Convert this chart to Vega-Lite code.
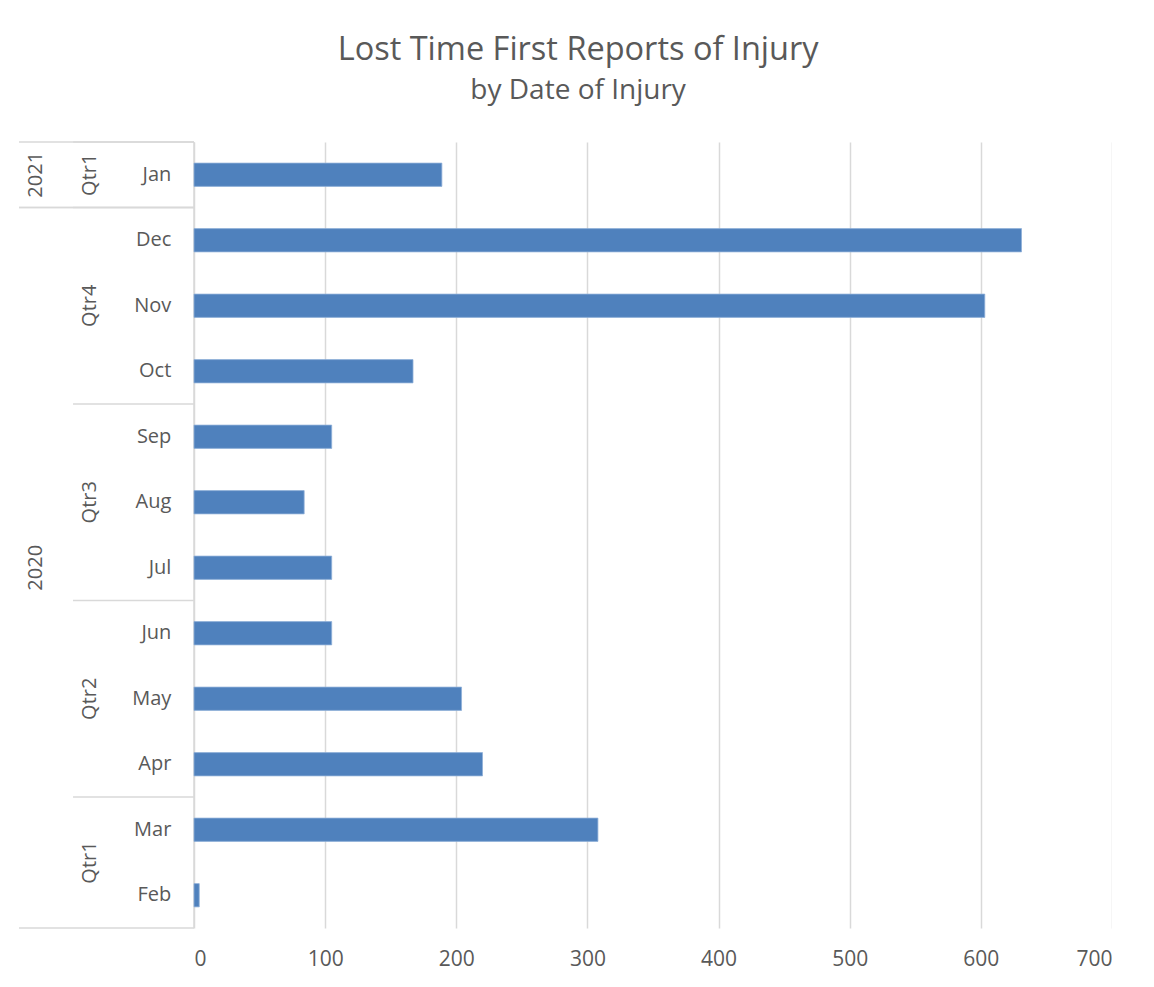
{
  "$schema": "https://vega.github.io/schema/vega-lite/v6.json",
  "padding": {"left": 18, "top": 33, "right": 0, "bottom": 8},
  "background": "white",
  "bounds": "flush",
  "title": {
    "text": "Lost Time First Reports of Injury",
    "subtitle": "by Date of Injury",
    "anchor": "middle",
    "dx": 13,
    "font": "Open Sans",
    "fontSize": 32.5,
    "fontWeight": "normal",
    "color": "#595959",
    "subtitleFont": "Open Sans",
    "subtitleFontSize": 28,
    "subtitleColor": "#595959",
    "subtitlePadding": 11,
    "offset": 36
  },
  "datasets": {
    "months": [
      {"year": "2021", "quarter": "Qtr1", "month": "Jan", "count": 189},
      {"year": "2020", "quarter": "Qtr4", "month": "Dec", "count": 631},
      {"year": "2020", "quarter": "Qtr4", "month": "Nov", "count": 603},
      {"year": "2020", "quarter": "Qtr4", "month": "Oct", "count": 167},
      {"year": "2020", "quarter": "Qtr3", "month": "Sep", "count": 105},
      {"year": "2020", "quarter": "Qtr3", "month": "Aug", "count": 84},
      {"year": "2020", "quarter": "Qtr3", "month": "Jul", "count": 105},
      {"year": "2020", "quarter": "Qtr2", "month": "Jun", "count": 105},
      {"year": "2020", "quarter": "Qtr2", "month": "May", "count": 204},
      {"year": "2020", "quarter": "Qtr2", "month": "Apr", "count": 220},
      {"year": "2020", "quarter": "Qtr1", "month": "Mar", "count": 308},
      {"year": "2020", "quarter": "Qtr1", "month": "Feb", "count": 4}
    ],
    "years": [
      {"year": "2021", "start": 0, "end": 1},
      {"year": "2020", "start": 1, "end": 12}
    ],
    "quarters": [
      {"year": "2021", "quarter": "Qtr1", "start": 0, "end": 1},
      {"year": "2020", "quarter": "Qtr4", "start": 1, "end": 4},
      {"year": "2020", "quarter": "Qtr3", "start": 4, "end": 7},
      {"year": "2020", "quarter": "Qtr2", "start": 7, "end": 10},
      {"year": "2020", "quarter": "Qtr1", "start": 10, "end": 12}
    ]
  },
  "config": {
    "view": {"stroke": null},
    "font": "Open Sans",
    "text": {"font": "Open Sans", "color": "#595959"}
  },
  "spacing": 0,
  "hconcat": [
    {
      "width": 175,
      "height": 786,
      "layer": [
        {
          "layer": [
            {
              "data": {"name": "years"},
              "mark": {"type": "rule", "color": "#d9d9d9", "strokeWidth": 1.5},
              "encoding": {
                "x": {"datum": 0, "type": "quantitative", "scale": {"domain": [0, 3.24], "nice": false, "zero": false}, "axis": null},
                "x2": {"datum": 3.24},
                "y": {"field": "start", "type": "quantitative", "scale": {"domain": [0, 12], "nice": false, "zero": false, "reverse": true}, "axis": null}
              }
            },
            {
              "data": {"name": "years"},
              "mark": {"type": "rule", "color": "#d9d9d9", "strokeWidth": 1.5},
              "encoding": {
                "x": {"datum": 0, "type": "quantitative", "axis": null},
                "x2": {"datum": 3.24},
                "y": {"field": "end", "type": "quantitative", "axis": null}
              }
            },
            {
              "data": {"name": "years"},
              "mark": {"type": "rule", "color": "#d9d9d9", "strokeWidth": 1.5},
              "encoding": {
                "x": {"datum": 3.24, "type": "quantitative", "axis": null},
                "y": {"field": "start", "type": "quantitative", "axis": null},
                "y2": {"field": "end"}
              }
            },
            {
              "data": {"name": "quarters"},
              "mark": {"type": "rule", "color": "#d9d9d9", "strokeWidth": 1.5},
              "encoding": {
                "x": {"datum": 1, "type": "quantitative", "axis": null},
                "x2": {"datum": 3.24},
                "y": {"field": "start", "type": "quantitative", "axis": null}
              }
            },
            {
              "data": {"name": "years"},
              "transform": [{"calculate": "(datum.start + datum.end) / 2", "as": "mid"}],
              "mark": {"type": "text", "angle": 270, "align": "center", "baseline": "middle", "fontSize": 20, "color": "#595959"},
              "encoding": {
                "x": {"datum": 0.31, "type": "quantitative", "axis": null},
                "y": {"field": "mid", "type": "quantitative", "axis": null},
                "text": {"field": "year"}
              }
            },
            {
              "data": {"name": "quarters"},
              "transform": [{"calculate": "(datum.start + datum.end) / 2", "as": "mid"}],
              "mark": {"type": "text", "angle": 270, "align": "center", "baseline": "middle", "fontSize": 20, "color": "#595959"},
              "encoding": {
                "x": {"datum": 1.31, "type": "quantitative", "axis": null},
                "y": {"field": "mid", "type": "quantitative", "axis": null},
                "text": {"field": "quarter"}
              }
            }
          ]
        },
        {
          "data": {"name": "months"},
          "mark": {"type": "text", "align": "right", "baseline": "middle", "fontSize": 20, "color": "#595959"},
          "encoding": {
            "x": {"datum": 2.82, "type": "quantitative", "axis": null},
            "y": {
              "field": "month",
              "type": "nominal",
              "sort": ["Jan", "Dec", "Nov", "Oct", "Sep", "Aug", "Jul", "Jun", "May", "Apr", "Mar", "Feb"],
              "scale": {"paddingInner": 0.645, "paddingOuter": 0.3225},
              "axis": null
            },
            "text": {"field": "month"}
          }
        }
      ],
      "resolve": {"scale": {"y": "independent"}, "axis": {"y": "independent"}}
    },
    {
      "width": 918,
      "height": 786,
      "data": {"name": "months"},
      "mark": {"type": "bar", "color": "#4f81bd", "stroke": "#8fb0d8", "strokeWidth": 0.8},
      "encoding": {
        "y": {
          "field": "month",
          "type": "nominal",
          "sort": ["Jan", "Dec", "Nov", "Oct", "Sep", "Aug", "Jul", "Jun", "May", "Apr", "Mar", "Feb"],
          "scale": {"paddingInner": 0.645, "paddingOuter": 0.3225},
          "axis": null
        },
        "x": {
          "field": "count",
          "type": "quantitative",
          "scale": {"domain": [0, 700], "nice": false},
          "axis": {
            "title": null,
            "values": [0, 100, 200, 300, 400, 500, 600, 700],
            "grid": true,
            "gridColor": "#d9d9d9",
            "gridWidth": 1.5,
            "domain": false,
            "ticks": false,
            "labelFont": "Open Sans",
            "labelFontSize": 21,
            "labelColor": "#595959",
            "labelPadding": 20
          }
        }
      }
    }
  ]
}
